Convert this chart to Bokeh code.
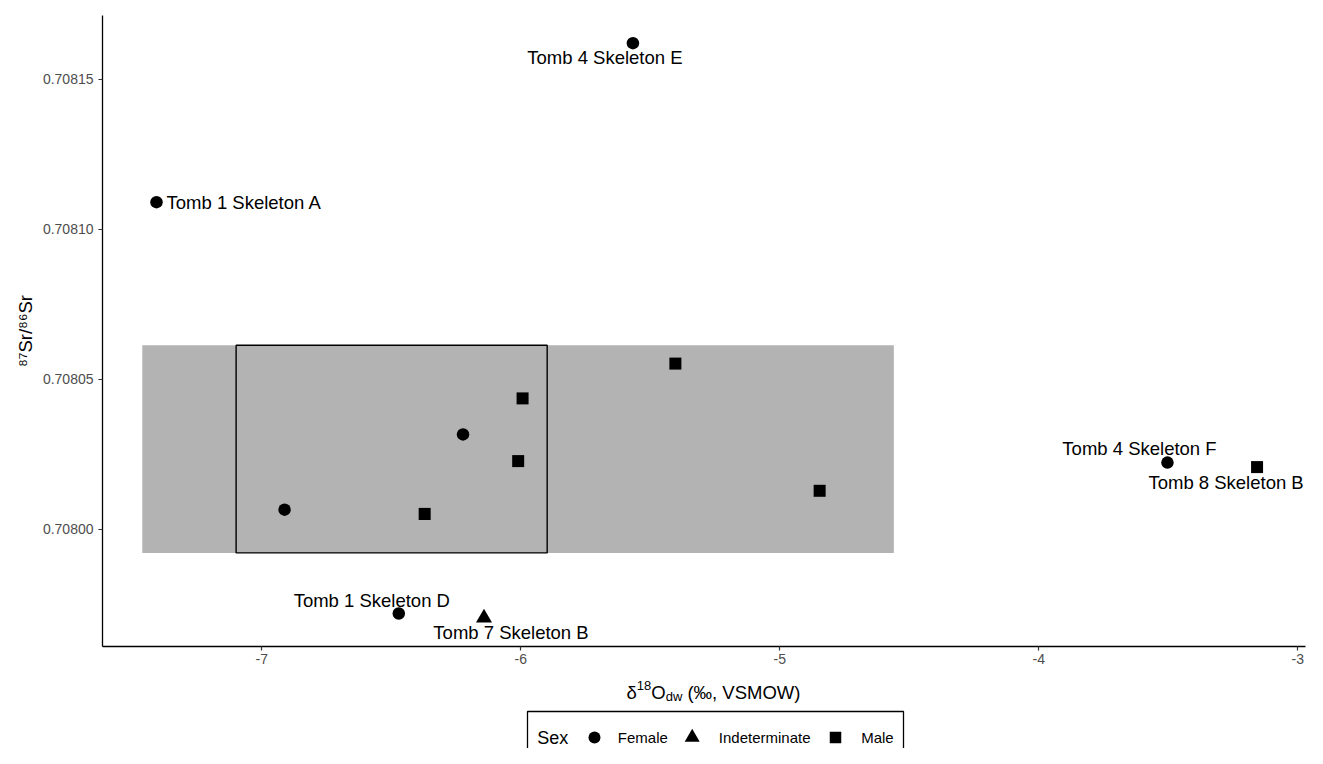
from bokeh.plotting import figure
from bokeh.models import Range1d, FixedTicker, NumeralTickFormatter, ColumnDataSource, Title
from bokeh.layouts import column
from bokeh.embed import file_html
from bokeh.resources import INLINE
from bokeh.core.properties import value

FONT = "Liberation Sans"

# ---------------- data ----------------
x_ticks = [-7, -6, -5, -4, -3]
y_ticks = [0.70800, 0.70805, 0.70810, 0.70815]

sample = ["Tomb 4 Skeleton E", "Tomb 1 Skeleton A", "", "", "", "", "", "", "",
          "Tomb 4 Skeleton F", "Tomb 8 Skeleton B", "Tomb 1 Skeleton D", "Tomb 7 Skeleton B"]
d18o = [-5.567, -7.4065, -5.403, -5.993, -6.223, -6.010, -4.846, -6.912, -6.371,
        -3.503, -3.157, -6.471, -6.142]
sr = [0.7081621, 0.7081091, 0.7080553, 0.7080437, 0.7080317, 0.7080228, 0.7080129,
      0.7080066, 0.7080052, 0.7080223, 0.7080208, 0.7079720, 0.7079705]
sex = ["Female", "Female", "Male", "Male", "Female", "Male", "Male", "Female", "Male",
       "Female", "Male", "Female", "Indeterminate"]

# local range (grey band) and inner box
band_x = [-7.4614, -4.5595]
band_y = [0.7079922, 0.7080614]
box_x = [-7.0991, -5.8980]

sex_levels = ["Female", "Indeterminate", "Male"]

# ---------------- style ----------------
marker_of = {"Female": "circle", "Indeterminate": "triangle", "Male": "square"}
size_of = {"Female": 12.5, "Indeterminate": 16, "Male": 12}
# label nudges in pixels (right, down)
nudge = {
    "Tomb 4 Skeleton E": (-28, 14, "center"),
    "Tomb 1 Skeleton A": (10, 0, "left"),
    "Tomb 4 Skeleton F": (-28, -14, "center"),
    "Tomb 8 Skeleton B": (-31, 15, "center"),
    "Tomb 1 Skeleton D": (-27, -13, "center"),
    "Tomb 7 Skeleton B": (27, 14.5, "center"),
}

W = 1307
H1 = 672
H2 = 76
BL, BR = 102, 2

p = figure(width=W, height=H1,
           x_range=Range1d(-7.615, -2.97), y_range=Range1d(0.707961, 0.70817133),
           output_backend="svg", toolbar_location=None,
           min_border_left=BL, min_border_right=BR, min_border_top=15, min_border_bottom=26)
p.grid.visible = False
p.outline_line_color = None

p.quad(left=[band_x[0]], right=[band_x[1]], bottom=[band_y[0]], top=[band_y[1]],
       fill_color="#B3B3B3", line_color=None)
p.quad(left=[box_x[0]], right=[box_x[1]], bottom=[band_y[0]], top=[band_y[1]],
       fill_color=None, line_color="black", line_width=1.4)

src = ColumnDataSource(dict(
    x=d18o, y=sr, sex=sex,
    marker=[marker_of[s] for s in sex],
    size=[size_of[s] for s in sex],
))
p.scatter("x", "y", marker="marker", size="size", source=src,
          fill_color="black", line_color=None)

for align in ["center", "left"]:
    idx = [i for i, s in enumerate(sample) if s and nudge[s][2] == align]
    lsrc = ColumnDataSource(dict(
        x=[d18o[i] for i in idx], y=[sr[i] for i in idx],
        text=[sample[i] for i in idx],
        dx=[nudge[sample[i]][0] for i in idx],
        dy=[nudge[sample[i]][1] for i in idx],
    ))
    p.text("x", "y", text="text", x_offset="dx", y_offset="dy", source=lsrc,
           text_align=align, text_baseline="middle",
           text_font=value(FONT), text_font_size="18.5px", text_color="black")

p.xaxis.ticker = FixedTicker(ticks=x_ticks)
p.xaxis.major_label_overrides = {t: str(t) for t in x_ticks}
p.yaxis.ticker = FixedTicker(ticks=y_ticks)
p.yaxis.formatter = NumeralTickFormatter(format="0.00000")
for ax in (p.xaxis[0], p.yaxis[0]):
    ax.axis_line_color = "black"
    ax.axis_line_width = 1.3
    ax.major_tick_line_color = "#333333"
    ax.major_tick_line_width = 1.2
    ax.major_tick_in = 0
    ax.major_tick_out = 4
    ax.minor_tick_line_color = None
    ax.major_label_text_font = FONT
    ax.major_label_text_font_size = "14px"
    ax.major_label_text_color = "#4D4D4D"
p.xaxis.major_label_standoff = 3
p.yaxis.major_label_standoff = 5

# y-axis title (as a side title so it can be nudged along the axis)
p.add_layout(Title(text="\u2078\u2077Sr/\u2078\u2076Sr", align="center", offset=26,
                   text_font=FONT, text_font_size="18.5px", text_font_style="normal",
                   text_color="black", standoff=8), "left")

# ---------------- bottom panel: x title + legend ----------------
p2 = figure(width=W, height=H2, x_range=Range1d(BL, W - BR), y_range=Range1d(H1 + H2, H1),
            output_backend="svg", toolbar_location=None,
            x_axis_type=None, y_axis_type=None,
            min_border_left=BL, min_border_right=BR, min_border_top=0, min_border_bottom=0)
p2.grid.visible = False
p2.outline_line_color = None

# x title composed of pieces (Arial metrics for advance widths)
adv = {"δ": 0.556, "1": 0.556, "8": 0.556, "O": 0.778, "d": 0.556, "w": 0.722, " ": 0.278,
       "(": 0.333, "‰": 1.0, ",": 0.278, "V": 0.667, "S": 0.667, "M": 0.833, "W": 0.944, ")": 0.333}
big, small = 18.5, 13.0
pieces = [("δ", big, 0, 0), ("18", small, -7.5, 0), ("O", big, 0, 0), ("dw", small, 4, 0),
          ("(‰, VSMOW)", big, 0, adv[" "] * big)]
total = sum(sum(adv[c] for c in t) * s + g for t, s, _, g in pieces)
cx, base = 713, 692
xs, ys, ts, fs = [], [], [], []
cur = cx - total / 2
for t, s, off, gap in pieces:
    cur += gap
    xs.append(cur); ys.append(base + off); ts.append(t); fs.append(f"{s}px")
    cur += sum(adv[c] for c in t) * s
p2.text(x=xs, y=ys, text=ts, text_font_size=fs, text_align="left", text_baseline="alphabetic",
        text_font=value(FONT), text_color="black")

# legend
leg_left, leg_right, leg_top = 527, 903, 711
p2.quad(left=[leg_left], right=[leg_right], top=[leg_top], bottom=[800],
        fill_color=None, line_color="black", line_width=1.3)
ly = 737
p2.text(x=[536.7], y=[ly], text=["Sex"], text_align="left", text_baseline="middle",
        text_font=value(FONT), text_font_size="18px", text_color="black")
key_x = [594, 691.7, 835]
lab_x = [617.3, 718.3, 860.7]
p2.scatter(x=key_x, y=[ly] * 3, marker=[marker_of[s] for s in sex_levels],
           size=[12, 15, 11.5], fill_color="black", line_color=None)
p2.text(x=lab_x, y=[ly] * 3, text=sex_levels, text_align="left", text_baseline="middle",
        text_font=value(FONT), text_font_size="15px", text_color="black")

layout = column(p, p2)
open("out.html", "w").write(file_html(layout, INLINE))
